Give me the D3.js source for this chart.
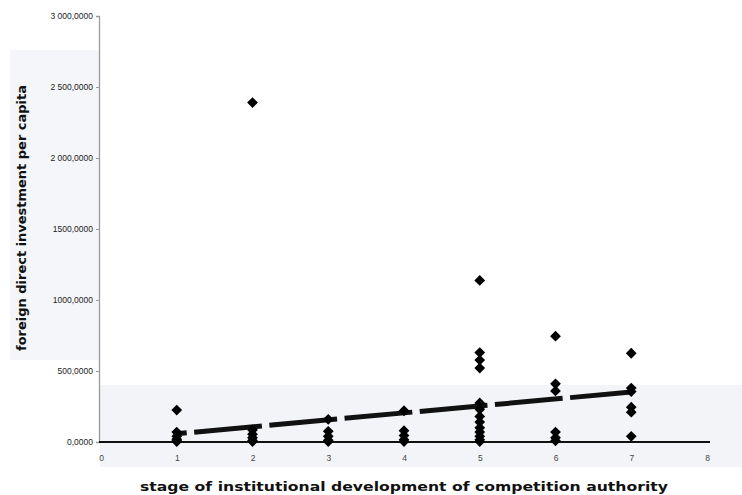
<!DOCTYPE html>
<html><head><meta charset="utf-8">
<script src="https://cdn.jsdelivr.net/npm/d3@7"></script>
<style>html,body{margin:0;padding:0;background:#fff;}</style>
</head><body>
<svg id="c" width="742" height="495"></svg>
<script>
// ---- data ----
const stages = [1, 2, 3, 4, 5, 6, 7];
const stage1 = [225, 70, 40, 20, 8, 3];
const stage2 = [2390, 85, 55, 30, 10, 3];
const stage3 = [160, 75, 40, 12, 3];
const stage4 = [220, 80, 45, 15, 3];
const stage5 = [1138, 630, 577, 521, 275, 230, 180, 140, 100, 70, 40, 15, 3];
const stage6 = [745, 410, 360, 70, 30, 8];
const stage7 = [625, 380, 355, 245, 210, 40];
const trendX = [1, 7];
const trendY = [58, 352];
const yTicks = [0, 500, 1000, 1500, 2000, 2500, 3000];
const yTickLabels = ["0,0000", "500,0000", "1000,0000", "1500,0000", "2 000,0000", "2 500,0000", "3 000,0000"];
const xTicks = [0, 1, 2, 3, 4, 5, 6, 7, 8];
const xTitle = "stage of institutional development of competition authority";
const yTitle = "foreign direct investment per capita";

const byStage = [stage1, stage2, stage3, stage4, stage5, stage6, stage7];
const points = [];
stages.forEach((s, i) => byStage[i].forEach(v => points.push({s, v})));

const svg = d3.select("#c");
// faint scan-tone background patches
svg.append("rect").attr("x", 10).attr("y", 50).attr("width", 90).attr("height", 310).attr("fill", "#f5f6f9");
svg.append("rect").attr("x", 100).attr("y", 385).attr("width", 642).attr("height", 82).attr("fill", "#f3f4f7");

const x = d3.scaleLinear().domain([0, 8]).range([101, 707]);
const y = d3.scaleLinear().domain([0, 3000]).range([442, 16]);

// y axis
const ya = svg.append("g").attr("transform", "translate(99,0)")
  .call(d3.axisLeft(y).tickValues(yTicks).tickSize(3).tickFormat((d, i) => yTickLabels[i]));
ya.select(".domain").attr("stroke", "#9a9a9a").attr("stroke-width", 1.3);
ya.selectAll(".tick line").attr("stroke", "#999");
ya.selectAll(".tick text").attr("font-family", "Liberation Sans Narrow, Liberation Sans, sans-serif")
  .attr("font-size", 8.5).attr("fill", "#222").attr("x", -6);

// x axis
const xa = svg.append("g").attr("transform", "translate(0,442)")
  .call(d3.axisBottom(x).tickValues(xTicks).tickSize(0).tickFormat(d3.format("d")));
xa.select(".domain").attr("stroke", "#111").attr("stroke-width", 2).attr("d", "M99,0H710");
xa.selectAll(".tick text").attr("font-family", "Liberation Sans, sans-serif")
  .attr("font-size", 8.5).attr("fill", "#444").attr("y", 13).attr("dy", "0.71em");

// trend line
svg.append("path")
  .datum(trendX.map((d, i) => [d, trendY[i]]))
  .attr("d", d3.line().x(d => x(d[0])).y(d => y(d[1])))
  .attr("fill", "none").attr("stroke", "#111").attr("stroke-width", 5)
  .attr("stroke-dasharray", "68,7.5").attr("stroke-dashoffset", 58);

// points
const sym = d3.symbol().type(d3.symbolSquare).size(58);
svg.append("g").selectAll("path").data(points).join("path")
  .attr("d", sym)
  .attr("transform", d => `translate(${x(d.s)},${y(d.v)}) rotate(45)`)
  .attr("fill", "#000");

// titles
svg.append("text").attr("x", 404).attr("y", 491).attr("text-anchor", "middle")
  .attr("font-family", "DejaVu Sans, sans-serif").attr("font-weight", "bold").attr("font-size", 12.5)
  .attr("textLength", 528).attr("lengthAdjust", "spacingAndGlyphs").attr("fill", "#111").text(xTitle);
svg.append("text").attr("transform", "translate(26,218) rotate(-90)").attr("text-anchor", "middle")
  .attr("font-family", "DejaVu Sans, sans-serif").attr("font-weight", "bold").attr("font-size", 12.5)
  .attr("textLength", 266).attr("lengthAdjust", "spacingAndGlyphs").attr("fill", "#111").text(yTitle);
</script>
</body></html>
